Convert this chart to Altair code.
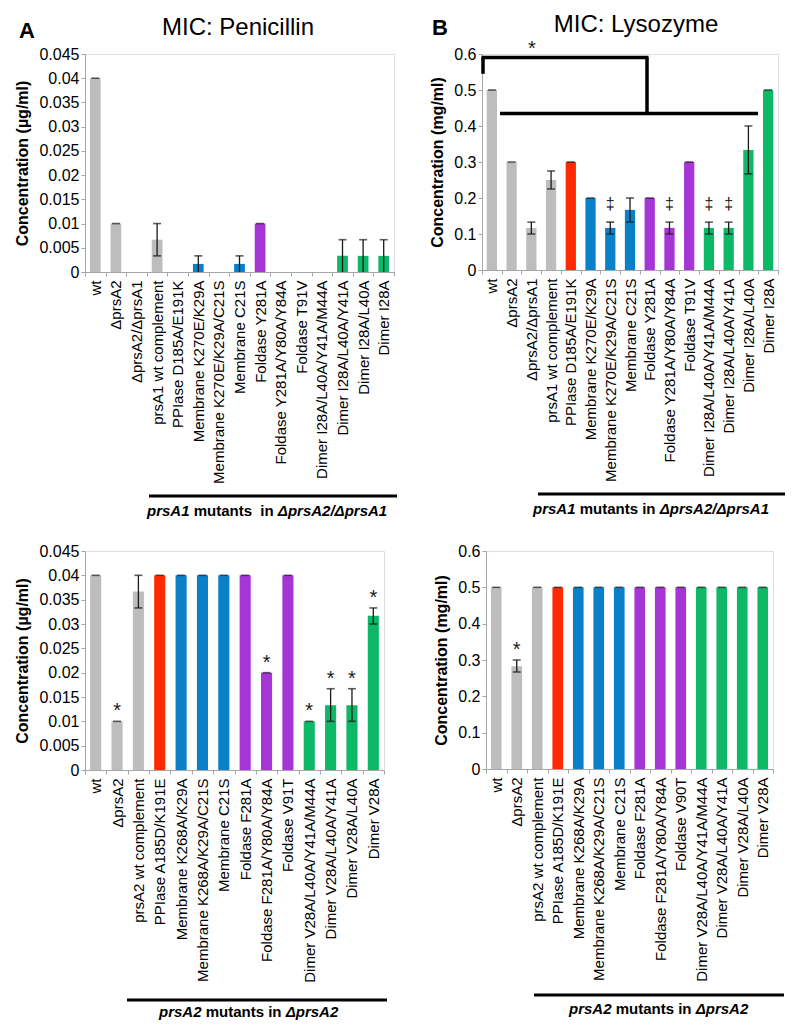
import altair as alt
import pandas as pd

FONT = "Liberation Sans"
AXIS_GRAY = "#a6a6a6"
INK = "#1a1a1a"

GROUP_DOMAIN = ["control", "PPIase", "Membrane", "Foldase", "Dimer"]
GROUP_COLORS = ["#BDBDBD", "#FF2A00", "#0A80C8", "#A535D5", "#0DB866"]

# ---------------- Panel A : MIC Penicillin, prsA1 mutants ----------------
a_labels = ["wt", "ΔprsA2", "ΔprsA2/ΔprsA1", "prsA1 wt complement", "PPIase D185A/E191K",
            "Membrane K270E/K29A", "Membrane K270E/K29A/C21S", "Membrane C21S",
            "Foldase Y281A", "Foldase Y281A/Y80A/Y84A", "Foldase T91V",
            "Dimer I28A/L40A/Y41A/M44A", "Dimer I28A/L40A/Y41A", "Dimer I28A/L40A", "Dimer I28A"]
a_groups = ["control", "control", "control", "control", "PPIase",
            "Membrane", "Membrane", "Membrane", "Foldase", "Foldase", "Foldase",
            "Dimer", "Dimer", "Dimer", "Dimer"]
a_values = [0.04, 0.01, 0.0, 0.00667, 0.0, 0.00167, 0.0, 0.00167, 0.01, 0.0, 0.0, 0.0, 0.00333, 0.00333, 0.00333]
a_low = [0.04, 0.01, 0.0, 0.00333, 0.0, 0.0, 0.0, 0.0, 0.01, 0.0, 0.0, 0.0, 0.0, 0.0, 0.0]
a_high = [0.04, 0.01, 0.0, 0.01, 0.0, 0.00333, 0.0, 0.00333, 0.01, 0.0, 0.0, 0.0, 0.00667, 0.00667, 0.00667]
a_marks = ["", "", "", "", "", "", "", "", "", "", "", "", "", "", ""]
a_ticks = [0, 0.005, 0.01, 0.015, 0.02, 0.025, 0.03, 0.035, 0.04, 0.045]

# ---------------- Panel B : MIC Lysozyme, prsA1 mutants ----------------
b_labels = a_labels
b_groups = a_groups
b_values = [0.5, 0.3, 0.117, 0.25, 0.3, 0.2, 0.117, 0.167, 0.2, 0.117, 0.3, 0.117, 0.117, 0.333, 0.5]
b_low = [0.5, 0.3, 0.1, 0.225, 0.3, 0.2, 0.1, 0.133, 0.2, 0.1, 0.3, 0.1, 0.1, 0.267, 0.5]
b_high = [0.5, 0.3, 0.133, 0.275, 0.3, 0.2, 0.133, 0.2, 0.2, 0.133, 0.3, 0.133, 0.133, 0.4, 0.5]
b_marks = ["", "", "", "", "", "", "‡", "", "", "‡", "", "‡", "‡", "", ""]
b_ticks = [0, 0.1, 0.2, 0.3, 0.4, 0.5, 0.6]
# significance bracket levels (values on the y axis)
b_bracket_top = 0.59
b_bracket_left_end = 0.545
b_bracket_low = 0.435
b_star_level = 0.625

# ---------------- Panel C : MIC Penicillin, prsA2 mutants ----------------
c_labels = ["wt", "ΔprsA2", "prsA2 wt complement", "PPIase A185D/K191E",
            "Membrane K268A/K29A", "Membrane K268A/K29A/C21S", "Membrane C21S",
            "Foldase F281A", "Foldase F281A/Y80A/Y84A", "Foldase V91T",
            "Dimer V28A/L40A/Y41A/M44A", "Dimer V28A/L40A/Y41A", "Dimer V28A/L40A", "Dimer V28A"]
c_groups = ["control", "control", "control", "PPIase",
            "Membrane", "Membrane", "Membrane", "Foldase", "Foldase", "Foldase",
            "Dimer", "Dimer", "Dimer", "Dimer"]
c_values = [0.04, 0.01, 0.0367, 0.04, 0.04, 0.04, 0.04, 0.04, 0.02, 0.04, 0.01, 0.0133, 0.0133, 0.0317]
c_low = [0.04, 0.01, 0.0333, 0.04, 0.04, 0.04, 0.04, 0.04, 0.02, 0.04, 0.01, 0.01, 0.01, 0.03]
c_high = [0.04, 0.01, 0.04, 0.04, 0.04, 0.04, 0.04, 0.04, 0.02, 0.04, 0.01, 0.0167, 0.0167, 0.0333]
c_marks = ["", "*", "", "", "", "", "", "", "*", "", "*", "*", "*", "*"]
c_ticks = a_ticks

# ---------------- Panel D : MIC Lysozyme, prsA2 mutants ----------------
d_labels = ["wt", "ΔprsA2", "prsA2 wt complement", "PPIase A185D/K191E",
            "Membrane K268A/K29A", "Membrane K268A/K29A/C21S", "Membrane C21S",
            "Foldase F281A", "Foldase F281A/Y80A/Y84A", "Foldase V90T",
            "Dimer V28A/L40A/Y41A/M44A", "Dimer V28A/L40A/Y41A", "Dimer V28A/L40A", "Dimer V28A"]
d_groups = c_groups
d_values = [0.5, 0.283, 0.5, 0.5, 0.5, 0.5, 0.5, 0.5, 0.5, 0.5, 0.5, 0.5, 0.5, 0.5]
d_low = [0.5, 0.267, 0.5, 0.5, 0.5, 0.5, 0.5, 0.5, 0.5, 0.5, 0.5, 0.5, 0.5, 0.5]
d_high = [0.5, 0.3, 0.5, 0.5, 0.5, 0.5, 0.5, 0.5, 0.5, 0.5, 0.5, 0.5, 0.5, 0.5]
d_marks = ["", "*", "", "", "", "", "", "", "", "", "", "", "", ""]
d_ticks = b_ticks

XLAB = 15
YLAB = 16
YTITLE = 16

ONE = pd.DataFrame({"k": [0]})


def txt(x, y, text, size, weight="normal", style="normal", align="left", baseline="middle"):
    return alt.Chart(ONE).mark_text(
        text=text, font=FONT, fontSize=size, fontWeight=weight, fontStyle=style,
        align=align, baseline=baseline, color="black"
    ).encode(x=alt.value(x), y=alt.value(y))


def hline(x1, x2, y, width=3):
    return alt.Chart(ONE).mark_rule(color="black", strokeWidth=width).encode(
        x=alt.value(x1), x2=alt.value(x2), y=alt.value(y))


def group_note(x0, y_line, x1_line, x2_line, y_text, gene, host, double_space=False, size=15):
    # widths in em for Liberation Sans Bold
    w_gene = 2.834 * size
    sp = 0.278 * size
    mid = "mutants\u00a0\u00a0in" if double_space else "mutants in"
    w_mid = (5.334 if double_space else 5.056) * size
    layers = [hline(x1_line, x2_line, y_line)]
    layers.append(txt(x0, y_text, gene, size, "bold", "italic"))
    layers.append(txt(x0 + w_gene + sp, y_text, mid, size, "bold"))
    layers.append(txt(x0 + w_gene + sp + w_mid + sp, y_text, host, size, "bold", "italic"))
    return layers


def panel(labels, groups, values, low, high, marks, ticks, fmt, ytitle, width, height,
          mark_size, mark_dy):
    df = pd.DataFrame({"label": labels, "group": groups, "value": values,
                       "low": low, "high": high, "mark": marks})
    xax = alt.Axis(title=None, labelAngle=270, labelAlign="right", labelBaseline="middle",
                   labelFont=FONT, labelFontSize=XLAB, labelColor="black",
                   labelPadding=4, labelLimit=0, tickSize=4,
                   tickColor=AXIS_GRAY, domainColor=AXIS_GRAY, tickBand="extent")
    xscale = alt.Scale(paddingInner=0, paddingOuter=0)
    yax = alt.Axis(title=ytitle, titleFont=FONT, titleFontSize=YTITLE,
                   titleFontWeight="bold", titleColor="black", titlePadding=8,
                   labelFont=FONT, labelFontSize=YLAB, labelColor="black",
                   values=ticks, format=fmt, tickSize=4, tickColor=AXIS_GRAY,
                   domainColor=AXIS_GRAY, grid=False, labelPadding=2, labelOverlap=False)
    yscale = alt.Scale(domain=[ticks[0], ticks[-1]], nice=False)

    def X():
        return alt.X("label:N", sort=labels, title=None, scale=xscale, axis=xax)

    def Y(field):
        return alt.Y(field, scale=yscale, axis=yax, title=ytitle)

    base = alt.Chart(df)
    bars = base.mark_bar(width=alt.RelativeBandSize(0.52)).encode(
        x=X(), y=Y("value:Q"),
        color=alt.Color("group:N", scale=alt.Scale(domain=GROUP_DOMAIN, range=GROUP_COLORS),
                        legend=None))
    err = base.transform_filter("datum.value > 0").mark_rule(color=INK, strokeWidth=1.3).encode(
        x=X(), y=Y("low:Q"), y2="high:Q")
    cap_hi = base.transform_filter("datum.value > 0").mark_tick(
        color=INK, size=8, thickness=1.6).encode(x=X(), y=Y("high:Q"))
    cap_lo = base.transform_filter("datum.low > 0 && datum.low < datum.value").mark_tick(
        color=INK, size=8, thickness=1.6).encode(x=X(), y=Y("low:Q"))
    sig = base.transform_filter("datum.mark != ''").mark_text(
        font=FONT, fontSize=mark_size, color=INK, baseline="alphabetic", dy=mark_dy).encode(
        x=X(), y=Y("high:Q"), text="mark:N")
    return [bars, err, cap_hi, cap_lo, sig], Y


# ---- Panel A
WA, HA = 309, 218
la, _ = panel(a_labels, a_groups, a_values, a_low, a_high, a_marks, a_ticks, ".3~f",
              "Concentration (µg/ml)", WA, HA, 20, -4)
la += [txt(153, -26, "MIC: Penicillin", 24, align="center"),
       txt(-58, -23, "A", 22, "bold", align="center")]
la += group_note(62, 442, 64, 312, 457, "prsA1", "ΔprsA2/ΔprsA1", double_space=True)
chart_a = alt.layer(*la).properties(width=WA, height=HA)

# ---- Panel B
WB, HB = 296, 216
lb, YB = panel(b_labels, b_groups, b_values, b_low, b_high, b_marks, b_ticks, ".1~f",
               "Concentration (mg/ml)", WB, HB, 16, -13)


def vseg(xpix, y1, y2):
    d = pd.DataFrame({"y1": [y1], "y2": [y2]})
    return alt.Chart(d).mark_rule(color="black", strokeWidth=3.5).encode(
        x=alt.value(xpix), y=YB("y1:Q"), y2="y2:Q")


def hseg(x1, x2, yv):
    d = pd.DataFrame({"y1": [yv]})
    return alt.Chart(d).mark_rule(color="black", strokeWidth=3.5).encode(
        x=alt.value(x1), x2=alt.value(x2), y=YB("y1:Q"))


star_df = pd.DataFrame({"y1": [b_star_level], "t": ["*"]})
lb += [vseg(1, b_bracket_left_end, b_bracket_top),
       hseg(-0.5, 166.5, b_bracket_top),
       vseg(165, b_bracket_top, b_bracket_low),
       hseg(18, 276, b_bracket_low),
       alt.Chart(star_df).mark_text(font=FONT, fontSize=20, color=INK, baseline="middle",
                                    dy=4).encode(x=alt.value(50), y=YB("y1:Q"), text="t:N")]
lb += [txt(154, -29, "MIC: Lysozyme", 24, align="center"),
       txt(-42, -26, "B", 22, "bold", align="center")]
lb += group_note(51, 440, 56, 303, 455, "prsA1", "ΔprsA2/ΔprsA1")
chart_b = alt.layer(*lb).properties(width=WB, height=HB)

# ---- Panel C
WC, HC = 299, 219
lc, _ = panel(c_labels, c_groups, c_values, c_low, c_high, c_marks, c_ticks, ".3~f",
              "Concentration (µg/ml)", WC, HC, 20, -4)
lc += group_note(74, 449, 42, 302, 461, "prsA2", "ΔprsA2")
chart_c = alt.layer(*lc).properties(width=WC, height=HC)

# ---- Panel D
WD, HD = 287, 218
ld, _ = panel(d_labels, d_groups, d_values, d_low, d_high, d_marks, d_ticks, ".1~f",
              "Concentration (mg/ml)", WD, HD, 20, -4)
ld += group_note(83, 444, 48, 298, 458, "prsA2", "ΔprsA2")
chart_d = alt.layer(*ld).properties(width=WD, height=HD)

top = alt.hconcat(chart_a, chart_b, spacing=30)
bottom = alt.hconcat(chart_c, chart_d, spacing=44)
chart = alt.vconcat(top, bottom, spacing=22).properties(
    padding={"left": 6, "top": 4, "right": 5, "bottom": 5}
).configure_view(stroke=None).configure_axis(
    labelFont=FONT, titleFont=FONT, labelColor="black"
).configure(background="white")

chart.save("out.html", embed_options={"renderer": "svg", "actions": False})
